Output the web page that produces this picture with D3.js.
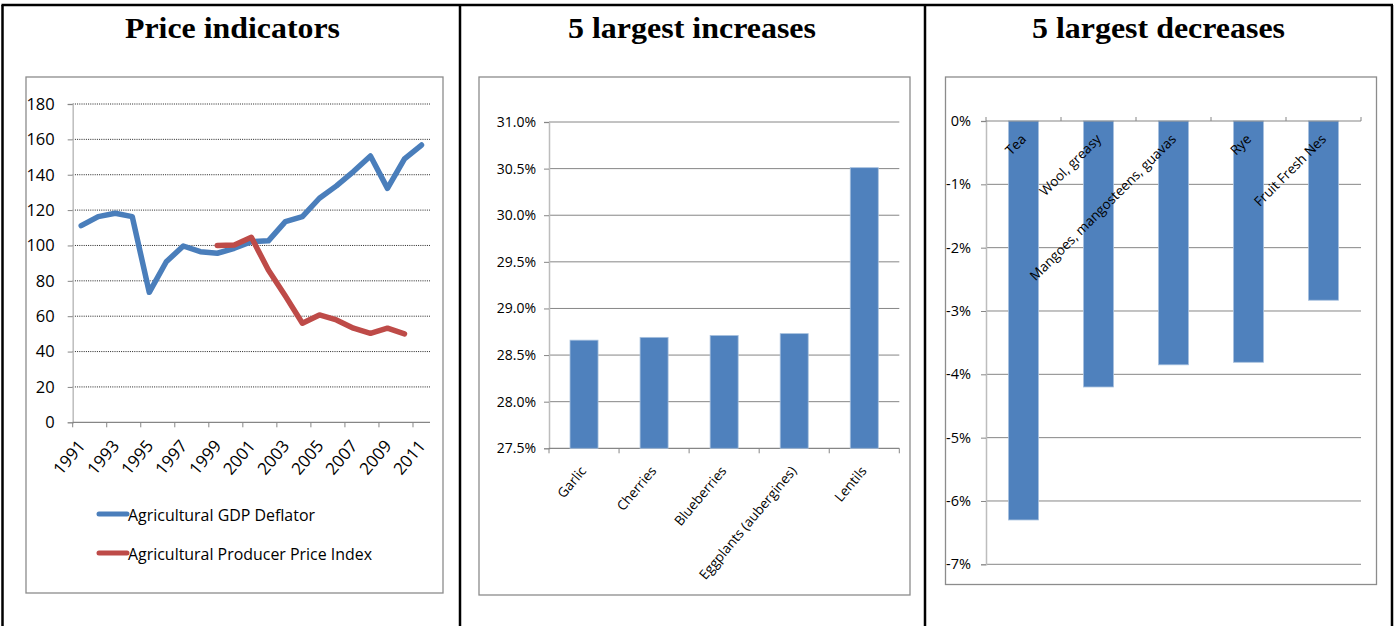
<!DOCTYPE html>
<html><head><meta charset="utf-8">
<script src="https://cdn.jsdelivr.net/npm/d3@7"></script>
<style>body{margin:0;background:#fff}</style>
</head><body>
<svg id="c" width="1397" height="626"></svg>
<script>
// ---------- data ----------
const titles = ["Price indicators", "5 largest increases", "5 largest decreases"];
const years = ["1991","1992","1993","1994","1995","1996","1997","1998","1999","2000","2001","2002","2003","2004","2005","2006","2007","2008","2009","2010","2011"];
const yearLabels = ["1991","1993","1995","1997","1999","2001","2003","2005","2007","2009","2011"];
const gdpDeflator = [111.2,116.3,118.2,116.3,73.5,90.8,99.7,96.5,95.6,98.4,102.2,102.6,113.5,116.3,126.7,133.7,141.8,150.6,132.3,148.9,156.8];
const producerPriceIndex = [null,null,null,null,null,null,null,null,100.0,100.3,104.6,86.1,71.4,56.0,60.7,57.9,53.2,50.3,53.2,50.0,null];
const seriesNames = ["Agricultural GDP Deflator","Agricultural Producer Price Index"];
const leftTicks = [0,20,40,60,80,100,120,140,160,180];

const incCategories = ["Garlic","Cherries","Blueberries","Eggplants (aubergines)","Lentils"];
const incValues = [28.66,28.69,28.71,28.73,30.51];
const incTicks = [27.5,28.0,28.5,29.0,29.5,30.0,30.5,31.0];

const decCategories = ["Tea","Wool, greasy","Mangoes, mangosteens, guavas","Rye","Fruit Fresh Nes"];
const decValues = [-6.30,-4.20,-3.85,-3.81,-2.83];
const decTicks = [0,-1,-2,-3,-4,-5,-6,-7];

// ---------- styles ----------
const BLUE = "#4A7EBB", RED = "#BE4B48", BAR = "#4F81BD";
const FONT = "'Open Sans', 'Noto Sans', sans-serif";
const GRIDC = "#868686", AXISC = "#BDBDBD", FRAMEC = "#8C8C8C";

const svg = d3.select("#c");
svg.append("rect").attr("width",1397).attr("height",626).attr("fill","#fff");

// table borders
const borders = [[2.5,5,2.5,626],[460,5,460,626],[925,5,925,626],[1392,5,1392,626],[1.5,5,1393,5]];
svg.selectAll("line.border").data(borders).join("line").attr("class","border")
  .attr("x1",d=>d[0]).attr("y1",d=>d[1]).attr("x2",d=>d[2]).attr("y2",d=>d[3])
  .attr("stroke","#000").attr("stroke-width",2.5);

// titles
const titlePos = [[232.5,215],[692,248],[1158.5,253]];
svg.selectAll("text.title").data(titles).join("text").attr("class","title")
  .attr("x",(d,i)=>titlePos[i][0]-titlePos[i][1]/2).attr("y",38)
  .attr("textLength",(d,i)=>titlePos[i][1]).attr("lengthAdjust","spacingAndGlyphs")
  .attr("font-family","'Liberation Serif', 'Times New Roman', serif")
  .attr("font-weight","bold").attr("font-size",29).text(d=>d);

// frames
const frames = [[26,77,443,593],[479,77,910,595],[945.5,77,1376.5,584.5]];
svg.selectAll("rect.frame").data(frames).join("rect").attr("class","frame")
  .attr("x",d=>d[0]).attr("y",d=>d[1]).attr("width",d=>d[2]-d[0]).attr("height",d=>d[3]-d[1])
  .attr("fill","none").attr("stroke",FRAMEC).attr("stroke-width",1.3);

// ================= LEFT: line chart =================
{
  const L = 72.7, R = 430, T = 104, B = 422.3;
  const x = d3.scalePoint().domain(years).range([L,R]).padding(0.5);
  const xIdx = d3.scaleLinear().domain([0,years.length]).range([L,R]);
  const y = d3.scaleLinear().domain([0,180]).range([B,T]);
  const g = svg.append("g");

  g.selectAll("line.grid").data(leftTicks.filter(t=>t>0)).join("line")
    .attr("x1",L).attr("x2",R).attr("y1",d=>y(d)).attr("y2",d=>y(d))
    .attr("stroke","#222").attr("stroke-width",1).attr("stroke-dasharray","1,1.2");

  const ya = g.append("g").attr("transform",`translate(${L},0)`)
    .call(d3.axisLeft(y).tickValues(leftTicks).tickSize(5).tickPadding(13).tickFormat(d=>String(d)));
  ya.select(".domain").attr("stroke",AXISC).attr("stroke-width",1.5);
  ya.selectAll(".tick line").attr("stroke",GRIDC);
  ya.selectAll("text").attr("font-family",FONT).attr("font-size",16.5).attr("fill","#000");

  g.append("line").attr("x1",L).attr("x2",R).attr("y1",B).attr("y2",B).attr("stroke",GRIDC).attr("stroke-width",1.2);
  const xt = d3.range(0, years.length, 2);
  g.selectAll("line.xt").data(xt).join("line")
    .attr("x1",d=>xIdx(d)).attr("x2",d=>xIdx(d)).attr("y1",B).attr("y2",B+5).attr("stroke",GRIDC);
  g.selectAll("text.xl").data(yearLabels).join("text")
    .attr("transform",d=>`translate(${x(d)+5},${B+24}) rotate(-50)`)
    .attr("text-anchor","end").attr("font-family",FONT).attr("font-size",17).text(d=>d);

  const line = d3.line().defined(d=>d[1]!=null).x(d=>x(d[0])).y(d=>y(d[1]));
  g.append("path").datum(years.map((yy,i)=>[yy,gdpDeflator[i]])).attr("d",line)
    .attr("fill","none").attr("stroke",BLUE).attr("stroke-width",5.5).attr("stroke-linejoin","round").attr("stroke-linecap","round");
  g.append("path").datum(years.map((yy,i)=>[yy,producerPriceIndex[i]])).attr("d",line)
    .attr("fill","none").attr("stroke",RED).attr("stroke-width",5.5).attr("stroke-linejoin","round").attr("stroke-linecap","round");

  const lg = g.selectAll("g.leg").data(seriesNames).join("g").attr("transform",(d,i)=>`translate(0,${514+i*39})`);
  lg.append("line").attr("x1",99).attr("x2",127).attr("stroke",(d,i)=>i?RED:BLUE).attr("stroke-width",5).attr("stroke-linecap","round");
  lg.append("text").attr("x",128).attr("y",6.5).attr("font-family",FONT).attr("font-size",16.5)
    .attr("textLength",(d,i)=>i?244:187).attr("lengthAdjust","spacingAndGlyphs").text(d=>d);
}

// ================= MIDDLE: increases =================
{
  const L = 549, R = 899.3, T = 122, B = 448.3;
  const x = d3.scaleBand().domain(incCategories).range([L,R]).paddingInner(0.6).paddingOuter(0.3);
  const y = d3.scaleLinear().domain([27.5,31]).range([B,T]);
  const g = svg.append("g");
  g.selectAll("line.grid").data(incTicks.slice(1)).join("line")
    .attr("x1",L).attr("x2",R).attr("y1",d=>y(d)).attr("y2",d=>y(d)).attr("stroke",GRIDC).attr("stroke-width",1);
  const ya = g.append("g").attr("transform",`translate(${L},0)`)
    .call(d3.axisLeft(y).tickValues(incTicks).tickSize(5).tickPadding(8).tickFormat(d=>d.toFixed(1)+"%"));
  ya.select(".domain").attr("stroke",AXISC).attr("stroke-width",1.5);
  ya.selectAll(".tick line").attr("stroke",GRIDC);
  ya.selectAll("text").attr("font-family",FONT).attr("font-size",14).attr("fill","#000");
  g.append("line").attr("x1",L).attr("x2",R).attr("y1",B).attr("y2",B).attr("stroke",GRIDC).attr("stroke-width",1.2);
  const step = x.step();
  g.selectAll("line.xt").data(d3.range(incCategories.length+1)).join("line")
    .attr("x1",d=>L+d*step).attr("x2",d=>L+d*step).attr("y1",B).attr("y2",B+5).attr("stroke",GRIDC);
  g.selectAll("rect.bar").data(incCategories).join("rect")
    .attr("x",d=>x(d)).attr("width",x.bandwidth())
    .attr("y",(d,i)=>y(incValues[i])).attr("height",(d,i)=>y(27.5)-y(incValues[i]))
    .attr("fill",BAR).attr("stroke","#A7C0DE").attr("stroke-width",0.8);
  g.selectAll("text.xl").data(incCategories).join("text")
    .attr("transform",d=>`translate(${x(d)+x.bandwidth()/2+3},${B+23}) rotate(-50)`)
    .attr("text-anchor","end").attr("font-family",FONT).attr("font-size",13.5).text(d=>d);
}

// ================= RIGHT: decreases =================
{
  const L = 986, R = 1361, T = 121, B = 564.3;
  const x = d3.scaleBand().domain(decCategories).range([L,R]).paddingInner(0.6).paddingOuter(0.3);
  const y = d3.scaleLinear().domain([-7,0]).range([B,T]);
  const g = svg.append("g");
  g.selectAll("line.grid").data(decTicks.slice(1)).join("line")
    .attr("x1",L).attr("x2",R).attr("y1",d=>y(d)).attr("y2",d=>y(d)).attr("stroke",GRIDC).attr("stroke-width",1);
  const ya = g.append("g").attr("transform",`translate(${L},0)`)
    .call(d3.axisLeft(y).tickValues(decTicks).tickSize(5).tickPadding(10).tickFormat(d=>String(d)+"%"));
  ya.select(".domain").attr("stroke",AXISC).attr("stroke-width",1.5);
  ya.selectAll(".tick line").attr("stroke",GRIDC);
  ya.selectAll("text").attr("font-family",FONT).attr("font-size",14.5).attr("fill","#000");
  g.selectAll("rect.bar").data(decCategories).join("rect")
    .attr("x",d=>x(d)).attr("width",x.bandwidth())
    .attr("y",y(0)).attr("height",(d,i)=>y(decValues[i])-y(0))
    .attr("fill",BAR).attr("stroke","#A7C0DE").attr("stroke-width",0.8);
  g.append("line").attr("x1",L).attr("x2",R).attr("y1",y(0)).attr("y2",y(0)).attr("stroke",GRIDC).attr("stroke-width",1.2);
  const step = x.step();
  g.selectAll("line.xt").data(d3.range(decCategories.length+1)).join("line")
    .attr("x1",d=>L+d*step).attr("x2",d=>L+d*step).attr("y1",y(0)).attr("y2",y(0)-4).attr("stroke",GRIDC);
  g.selectAll("text.xl").data(decCategories).join("text")
    .attr("transform",d=>`translate(${x(d)+x.bandwidth()/2+3.5},${y(0)+19}) rotate(-45)`)
    .attr("text-anchor","end").attr("font-family",FONT).attr("font-size",13.5).text(d=>d);
}
</script>
</body></html>
